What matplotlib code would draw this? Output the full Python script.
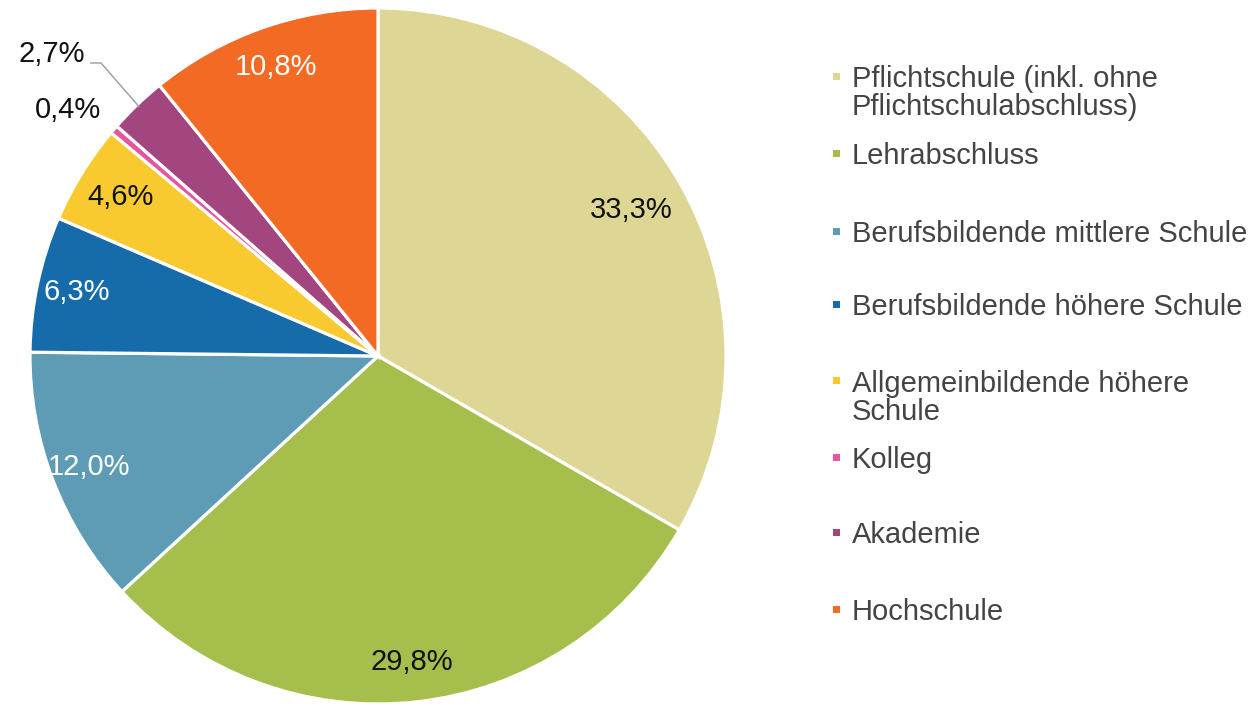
import matplotlib
matplotlib.use("Agg")
import matplotlib.pyplot as plt
from matplotlib.patches import Rectangle
import numpy as np

# ---- data ----
categories = [
    "Pflichtschule (inkl. ohne\nPflichtschulabschluss)",
    "Lehrabschluss",
    "Berufsbildende mittlere Schule",
    "Berufsbildende höhere Schule",
    "Allgemeinbildende höhere\nSchule",
    "Kolleg",
    "Akademie",
    "Hochschule",
]
values = [33.3, 29.8, 12.0, 6.3, 4.6, 0.4, 2.7, 10.8]
colors = ["#DDD694", "#A6BE4B", "#5E9CB6", "#166BAA",
          "#F9C930", "#E6559F", "#A3457F", "#F26A23"]
label_colors = ["#111111", "#111111", "white", "white",
                "#111111", "#111111", "#111111", "white"]

plt.rcParams['font.family'] = ['Liberation Sans', 'DejaVu Sans']

W, H = 1256, 707
fig = plt.figure(figsize=(W / 100, H / 100), dpi=100)

cx, cy, R = 378, 356, 348
ax = fig.add_axes([(cx - R) / W, (H - cy - R) / H, 2 * R / W, 2 * R / H])
wedges, _ = ax.pie(values, colors=colors, startangle=90, counterclock=False,
                   radius=1.0,
                   wedgeprops=dict(edgecolor="white", linewidth=2.3))
ax.set_xlim(-1, 1)
ax.set_ylim(-1, 1)
ax.set_aspect("equal")
ax.axis("off")

def fmt(v):
    return f"{v:.1f}".replace(".", ",") + "%"

# per-label radial distance (layout)
inner_r = [0.84, 0.885, 0.89, 0.885, 0.87, None, None, 0.88]
fs = 21

for i, (w, v) in enumerate(zip(wedges, values)):
    mid = np.deg2rad((w.theta1 + w.theta2) / 2)
    if inner_r[i] is not None:
        r = inner_r[i]
        ax.text(r * np.cos(mid), r * np.sin(mid), fmt(v), ha="center",
                va="center", fontsize=fs, color=label_colors[i])

def px2d(x, y):
    return (x - cx) / R, (cy - y) / R

# Kolleg (0,4%) outside label
tx, ty = px2d(101, 118)
ax.text(tx, ty, fmt(values[5]), ha="right", va="baseline", fontsize=fs,
        color=label_colors[5])

# Akademie (2,7%) outside label with leader line
w = wedges[6]
mid = np.deg2rad((w.theta1 + w.theta2) / 2)
ox, oy = 0.99 * np.cos(mid), 0.99 * np.sin(mid)
tx, ty = px2d(85, 62)
ax.text(tx, ty, fmt(values[6]), ha="right", va="baseline", fontsize=fs,
        color=label_colors[6])
lx0, ly = px2d(90, 63)
lx1, _ = px2d(101, 63)
ax.plot([lx0, lx1, ox], [ly, ly, oy], color="#9a9a9a", lw=1.0,
        solid_capstyle="butt", clip_on=False)

# ---- legend ----
baselines = [87, 164, 242, 315, 392, 468, 543, 620]
line_gap = 28
for lab, col, b in zip(categories, colors, baselines):
    n = lab.count("\n")
    fig.text(852 / W, 1 - (b + n * line_gap) / H, lab, ha="left",
             va="baseline", fontsize=fs, color="#444444", linespacing=0.98)
    my = b - 11
    s = 7
    fig.add_artist(Rectangle(((836 - s / 2) / W, 1 - (my + s / 2) / H),
                             s / W, s / H, transform=fig.transFigure,
                             facecolor=col, edgecolor="none"))

fig.savefig("out.png", dpi=100, facecolor="white")
